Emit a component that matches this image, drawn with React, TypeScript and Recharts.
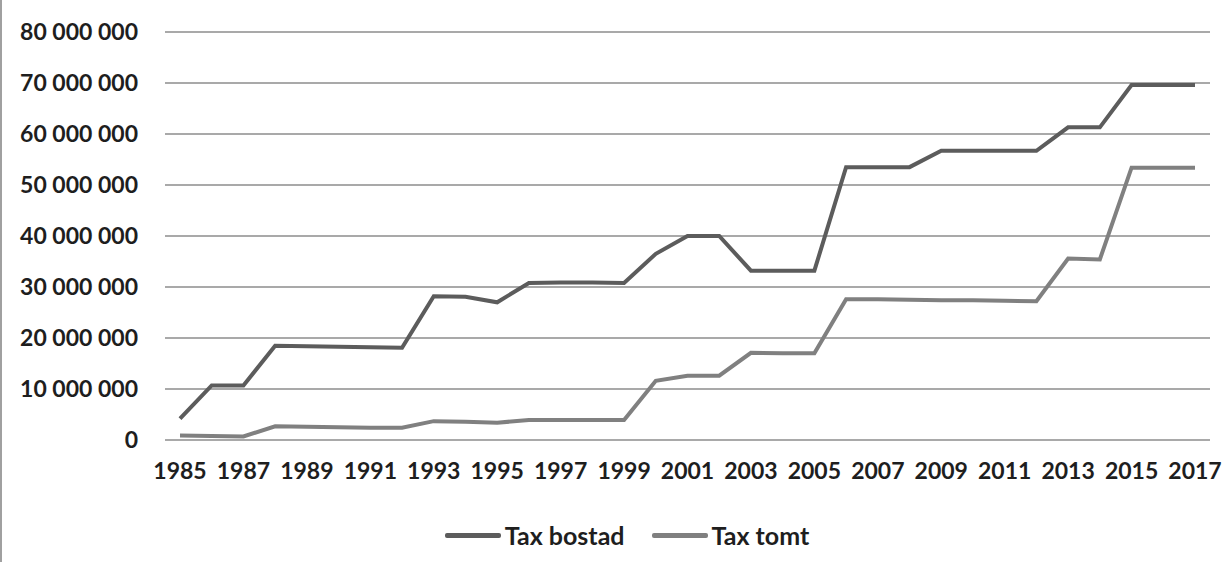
import { CartesianGrid, Legend, Line, LineChart, XAxis, YAxis } from "recharts";

const years = [
  1985, 1986, 1987, 1988, 1989, 1990, 1991, 1992, 1993, 1994, 1995, 1996, 1997, 1998, 1999, 2000, 2001,
  2002, 2003, 2004, 2005, 2006, 2007, 2008, 2009, 2010, 2011, 2012, 2013, 2014, 2015, 2016, 2017,
];

const taxBostad = [
  4.2, 10.7, 10.7, 18.5, 18.4, 18.3, 18.2, 18.1, 28.2, 28.1, 27.0, 30.8, 30.9, 30.9, 30.8, 36.5, 40.0,
  40.0, 33.2, 33.2, 33.2, 53.5, 53.5, 53.5, 56.7, 56.7, 56.7, 56.7, 61.3, 61.3, 69.6, 69.6, 69.6,
];

const taxTomt = [
  0.9, 0.8, 0.7, 2.7, 2.6, 2.5, 2.4, 2.4, 3.7, 3.6, 3.4, 3.9, 3.9, 3.9, 3.9, 11.6, 12.6,
  12.6, 17.1, 17.0, 17.0, 27.6, 27.6, 27.5, 27.4, 27.4, 27.3, 27.2, 35.6, 35.4, 53.4, 53.4, 53.4,
];

const yTicks = [0, 10, 20, 30, 40, 50, 60, 70, 80];

const seriesNames = ["Tax bostad", "Tax tomt"];
const bostadColor = "#5c5c5c";
const tomtColor = "#808080";

const data = years.map((year, i) => ({
  year: String(year),
  bostad: taxBostad[i] * 1_000_000,
  tomt: taxTomt[i] * 1_000_000,
}));

const fmt = (v: number) => String(Math.round(v)).replace(/\B(?=(\d{3})+(?!\d))/g, " ");

const tickStyle = { fill: "#1e1e1e", fontSize: 23, fontWeight: 700, fontFamily: "Lato, sans-serif" };

function ChartLegend() {
  const items = [
    { name: seriesNames[0], color: bostadColor },
    { name: seriesNames[1], color: tomtColor },
  ];
  return (
    <div
      style={{
        display: "flex",
        justifyContent: "center",
        alignItems: "center",
        gap: 27,
        height: 62,
        paddingTop: 8,
        paddingLeft: 44,
        boxSizing: "border-box",
        fontFamily: "Lato, sans-serif",
      }}
    >
      {items.map((it) => (
        <div key={it.name} style={{ display: "flex", alignItems: "center" }}>
          <span style={{ display: "inline-block", width: 56, height: 5, background: it.color, borderRadius: 2 }} />
          <span style={{ fontSize: 25, fontWeight: 700, color: "#1e1e1e", marginLeft: 4 }}>{it.name}</span>
        </div>
      ))}
    </div>
  );
}

export default function App() {
  return (
    <div
      style={{
        position: "fixed",
        left: 0,
        top: 0,
        width: 1231,
        height: 562,
        background: "#fff",
      }}
    >
      <div style={{ position: "absolute", left: 0, top: 0, width: 2, height: 562, background: "#a0a0a0" }} />
      <LineChart width={1231} height={562} data={data} margin={{ top: 32, right: 21, bottom: 0, left: 0 }}>
        <CartesianGrid vertical={false} stroke="#8c8c8c" strokeWidth={1.5} />
        <XAxis
          dataKey="year"
          interval={1}
          axisLine={false}
          tickLine={false}
          tick={tickStyle}
          tickMargin={17}
          height={60}
          padding={{ left: 15, right: 15 }}
        />
        <YAxis
          domain={[0, 80_000_000]}
          ticks={yTicks.map((t) => t * 1_000_000)}
          tickFormatter={fmt}
          axisLine={false}
          tickLine={false}
          tick={tickStyle}
          tickMargin={21}
          width={165}
        />
        <Legend verticalAlign="bottom" height={62} content={() => <ChartLegend />} />
        <Line
          type="linear"
          dataKey="bostad"
          name={seriesNames[0]}
          stroke={bostadColor}
          strokeWidth={4}
          dot={false}
          isAnimationActive={false}
        />
        <Line
          type="linear"
          dataKey="tomt"
          name={seriesNames[1]}
          stroke={tomtColor}
          strokeWidth={4}
          dot={false}
          isAnimationActive={false}
        />
      </LineChart>
    </div>
  );
}
